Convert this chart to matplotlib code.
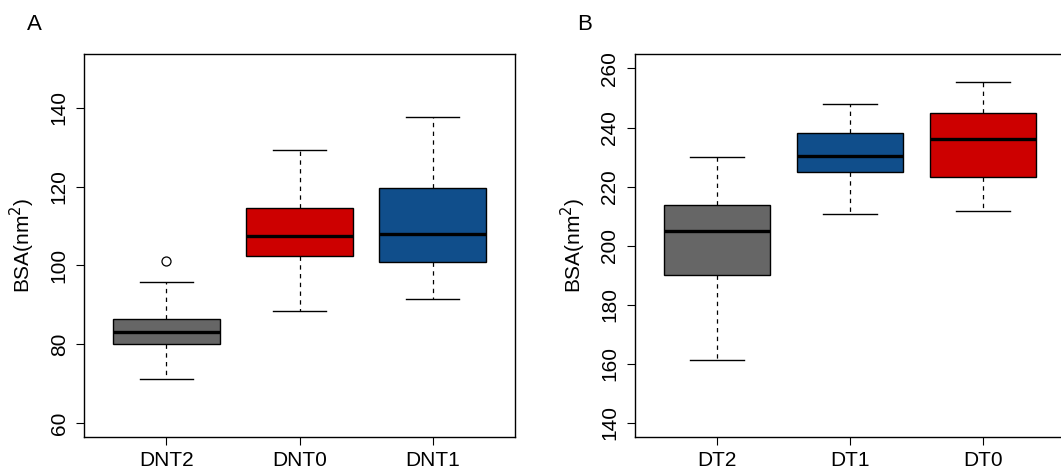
import matplotlib.pyplot as plt

plt.rcParams['font.family'] = ['Liberation Sans', 'DejaVu Sans']

# Panel A
labels_a = ["DNT2", "DNT0", "DNT1"]
lo_a = [71.2, 88.5, 91.5]
q1_a = [80.1, 102.3, 100.8]
med_a = [83.0, 107.5, 108.1]
q3_a = [86.4, 114.7, 119.8]
hi_a = [95.9, 129.4, 137.8]
fliers_a = [[101.1], [], []]
colors_a = ["#666666", "#CD0000", "#104E8B"]

# Panel B
labels_b = ["DT2", "DT1", "DT0"]
lo_b = [161.3, 210.6, 211.6]
q1_b = [190.0, 225.1, 223.1]
med_b = [204.8, 230.2, 236.1]
q3_b = [213.8, 238.3, 245.0]
hi_b = [229.9, 247.8, 255.5]
fliers_b = [[], [], []]
colors_b = ["#666666", "#104E8B", "#CD0000"]


def make_stats(labels, lo, q1, med, q3, hi, fliers):
    stats = []
    for i in range(len(labels)):
        stats.append({"label": labels[i], "whislo": lo[i], "q1": q1[i], "med": med[i],
                      "q3": q3[i], "whishi": hi[i], "fliers": fliers[i]})
    return stats


def draw_panel(ax, stats, colors, ylim, yticks, letter):
    bp = ax.bxp(stats, positions=[1, 2, 3], widths=0.8, capwidths=0.4,
                patch_artist=True, showfliers=True,
                boxprops=dict(edgecolor='black', linewidth=1.0),
                medianprops=dict(color='black', linewidth=2.4, solid_capstyle='butt'),
                whiskerprops=dict(color='black', linewidth=0.9, linestyle=(0, (3.5, 3.5))),
                capprops=dict(color='black', linewidth=1.0),
                flierprops=dict(marker='o', markerfacecolor='none', markeredgecolor='black',
                                markersize=6.5, markeredgewidth=0.9))
    for patch, c in zip(bp['boxes'], colors):
        patch.set_facecolor(c)
    ax.set_xlim(0.38, 3.62)
    ax.set_ylim(*ylim)
    ax.set_yticks(yticks)
    ax.set_yticklabels([str(t) for t in yticks], rotation=90, va='center', fontsize=15)
    ax.tick_params(axis='y', length=6, pad=5)
    ax.tick_params(axis='x', length=6, pad=4, labelsize=15)
    ax.set_ylabel('BSA(nm$^2$)', fontsize=15, labelpad=9)
    for s in ax.spines.values():
        s.set_linewidth(1.0)
    ax.text(-0.116, 1.05, letter, transform=ax.transAxes, fontsize=16, ha='center', va='bottom')


W, H = 1061, 472
fig = plt.figure(figsize=(W / 100, H / 100), dpi=100)
ax1 = fig.add_axes([84 / W, 35 / H, 431 / W, 383 / H])
ax2 = fig.add_axes([634.5 / W, 35 / H, 431 / W, 383 / H])

draw_panel(ax1, make_stats(labels_a, lo_a, q1_a, med_a, q3_a, hi_a, fliers_a),
           colors_a, (56.45, 153.7), [60, 80, 100, 120, 140], "A")
draw_panel(ax2, make_stats(labels_b, lo_b, q1_b, med_b, q3_b, hi_b, fliers_b),
           colors_b, (135.2, 264.9), [140, 160, 180, 200, 220, 240, 260], "B")

fig.savefig("out.png", dpi=100)
